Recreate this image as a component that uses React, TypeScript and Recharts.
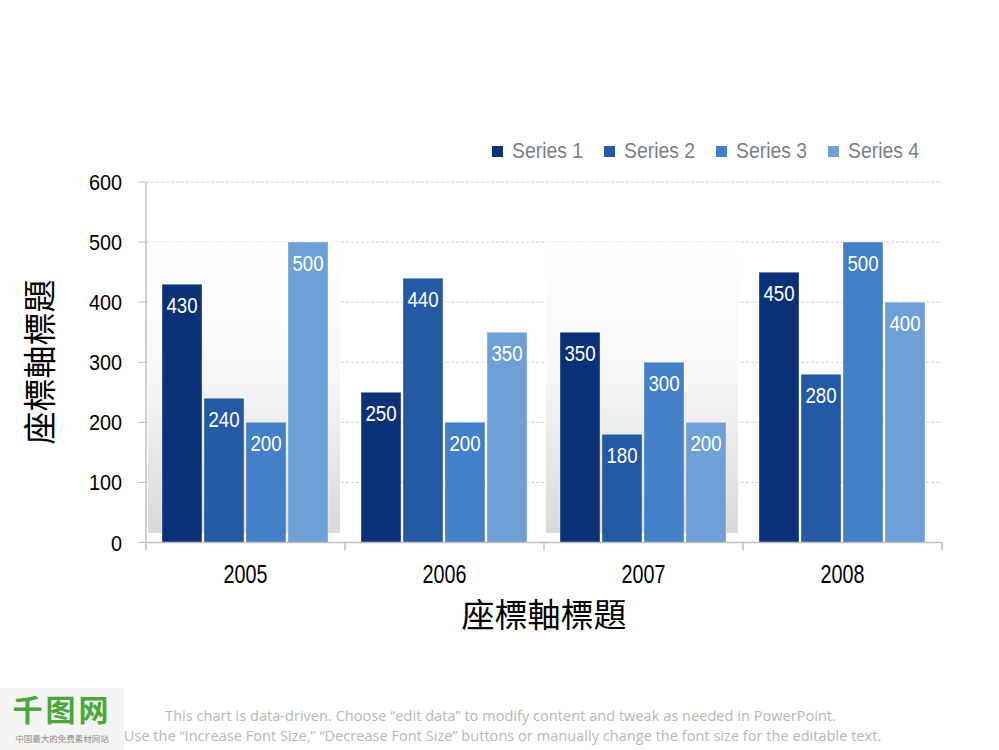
import React from "react";
import {
  BarChart,
  Bar,
  XAxis,
  YAxis,
  CartesianGrid,
  LabelList,
  ReferenceArea,
} from "recharts";

const YEARS = ["2005", "2006", "2007", "2008"];
const SERIES_NAMES = ["Series 1", "Series 2", "Series 3", "Series 4"];
const SERIES_1 = [430, 250, 350, 450];
const SERIES_2 = [240, 440, 180, 280];
const SERIES_3 = [200, 200, 300, 500];
const SERIES_4 = [500, 350, 200, 400];
const Y_TICKS = [0, 100, 200, 300, 400, 500, 600];
const SHADED_YEARS = ["2005", "2007"];
const AXIS_TITLE = "座標軸標題";

const COLORS = ["#0b3179", "#2459a5", "#4380c8", "#6f9fd7"];
const SANS = '"Liberation Sans", Arial, sans-serif';
const CJK = '"Noto Sans CJK TC", "Noto Sans CJK SC", sans-serif';
const AXIS_GRAY = "#bfbfbf";

const data = YEARS.map((year, i) => ({
  year,
  s1: SERIES_1[i],
  s2: SERIES_2[i],
  s3: SERIES_3[i],
  s4: SERIES_4[i],
}));
const KEYS = ["s1", "s2", "s3", "s4"];

// condensed look: no narrow font installed, so squeeze horizontally
const XTick = (props: any) => {
  const { x, y, payload, index } = props;
  const half = payload.offset ?? 99.5;
  const axisY = y;
  return (
    <g>
      <line
        x1={x - half}
        x2={x - half}
        y1={axisY}
        y2={axisY + 8}
        stroke={AXIS_GRAY}
        strokeWidth={1.5}
      />
      {index === YEARS.length - 1 && (
        <line
          x1={x + half}
          x2={x + half}
          y1={axisY}
          y2={axisY + 8}
          stroke={AXIS_GRAY}
          strokeWidth={1.5}
        />
      )}
      <text
        transform={`translate(${x},${axisY + 40}) scale(0.76,1)`}
        textAnchor="middle"
        fontFamily={SANS}
        fontSize={26}
        fill="#000"
      >
        {payload.value}
      </text>
    </g>
  );
};

const YTick = (props: any) => {
  const { x, y, payload } = props;
  return (
    <text
      transform={`translate(${x},${y + 8}) scale(0.88,1)`}
      textAnchor="end"
      fontFamily={SANS}
      fontSize={22.5}
      fill="#000"
    >
      {payload.value}
    </text>
  );
};

const BarLabel = (props: any) => {
  const { x, y, width, value } = props;
  return (
    <text
      transform={`translate(${x + width / 2},${y + 29}) scale(0.85,1)`}
      textAnchor="middle"
      fontFamily={SANS}
      fontSize={22}
      fill="#fff"
    >
      {value}
    </text>
  );
};

const Panel = (props: any) => {
  const { x, y, width, height } = props;
  return (
    <rect
      x={x + 2}
      y={y}
      width={width - 7}
      height={height}
      fill="url(#panelFill)"
    />
  );
};

export default function App() {
  return (
    <div
      style={{
        position: "absolute",
        left: 0,
        top: 0,
        width: 999,
        height: 750,
        background: "#fff",
        overflow: "hidden",
      }}
    >
      <BarChart
        width={999}
        height={750}
        data={data}
        margin={{ top: 182, right: 57, bottom: 147.5, left: 86 }}
        barCategoryGap={16}
        barGap={2}
      >
        <defs>
          <linearGradient id="panelFill" x1="0" y1="0" x2="0" y2="1">
            <stop offset="0%" stopColor="#ffffff" />
            <stop offset="45%" stopColor="#f7f7f7" />
            <stop offset="100%" stopColor="#d9d9d9" />
          </linearGradient>
        </defs>
        {SHADED_YEARS.map((yr) => (
          <ReferenceArea
            key={yr}
            x1={yr}
            x2={yr}
            y1={16}
            y2={500}
            shape={Panel}
            ifOverflow="visible"
          />
        ))}
        <CartesianGrid
          vertical={false}
          stroke="#d0d0d0"
          strokeDasharray="3 2"
        />
        <XAxis
          dataKey="year"
          height={60}
          tickLine={false}
          tickSize={0}
          tickMargin={0}
          axisLine={{ stroke: AXIS_GRAY, strokeWidth: 1.5 }}
          tick={<XTick />}
          interval={0}
        />
        <YAxis
          width={60}
          domain={[0, 600]}
          ticks={Y_TICKS}
          interval={0}
          tickSize={8}
          tickMargin={16}
          axisLine={{ stroke: AXIS_GRAY, strokeWidth: 1.5 }}
          tickLine={{ stroke: AXIS_GRAY }}
          tick={<YTick />}
        />
        {KEYS.map((k, i) => (
          <Bar
            key={k}
            dataKey={k}
            name={SERIES_NAMES[i]}
            fill={COLORS[i]}
            stroke="rgba(255,255,255,0.35)"
            strokeWidth={1}
            isAnimationActive={false}
          >
            <LabelList dataKey={k} content={<BarLabel />} />
          </Bar>
        ))}
      </BarChart>

      {/* legend */}
      <div
        style={{
          position: "absolute",
          left: 492,
          top: 137,
          display: "flex",
          fontFamily: SANS,
          fontSize: 22,
          color: "#7f7f7f",
          lineHeight: "28px",
        }}
      >
        {SERIES_NAMES.map((n, i) => (
          <div
            key={n}
            style={{ width: 112, display: "flex", alignItems: "center" }}
          >
            <span
              style={{
                display: "inline-block",
                width: 11,
                height: 11,
                background: COLORS[i],
                marginRight: 9,
              }}
            />
            <span
              style={{
                display: "inline-block",
                transform: "scaleX(0.88)",
                transformOrigin: "left center",
                whiteSpace: "nowrap",
              }}
            >
              {n}
            </span>
          </div>
        ))}
      </div>

      {/* axis titles */}
      <div
        style={{
          position: "absolute",
          left: 38,
          top: 362,
          transform: "translate(-50%, -50%) rotate(-90deg)",
          fontFamily: CJK,
          fontSize: 33,
          whiteSpace: "nowrap",
          color: "#000",
        }}
      >
        {AXIS_TITLE}
      </div>
      <div
        style={{
          position: "absolute",
          left: 544,
          top: 613,
          transform: "translate(-50%, -50%)",
          fontFamily: CJK,
          fontSize: 33,
          whiteSpace: "nowrap",
          color: "#000",
        }}
      >
        {AXIS_TITLE}
      </div>

      {/* footer */}
      <div
        style={{
          position: "absolute",
          left: 0,
          width: 999,
          top: 705,
          textAlign: "center",
          fontFamily: '"Open Sans", sans-serif',
          fontSize: 14.6,
          lineHeight: "20px",
          color: "#b8b8b8",
          whiteSpace: "nowrap",
        }}
      >
        <div style={{ marginLeft: 2 }}>
          This chart is data-driven. Choose “edit data” to modify content and
          tweak as needed in PowerPoint.
        </div>
        <div style={{ marginLeft: 6 }}>
          Use the “Increase Font Size,” “Decrease Font Size” buttons or manually
          change the font size for the editable text.
        </div>
      </div>

      {/* watermark */}
      <div
        style={{
          position: "absolute",
          left: 0,
          top: 688,
          width: 124,
          height: 62,
          background: "#f4f4f4",
        }}
      >
        <div
          style={{
            position: "absolute",
            left: 0,
            width: 124,
            top: -2,
            textAlign: "center",
            fontFamily: '"Noto Sans CJK SC", sans-serif',
            fontWeight: 700,
            fontSize: 30,
            color: "#4aa836",
            letterSpacing: 3,
          }}
        >
          千图网
        </div>
        <div
          style={{
            position: "absolute",
            left: 0,
            width: 124,
            top: 44,
            textAlign: "center",
            fontFamily: '"Noto Sans CJK SC", sans-serif',
            fontSize: 8.5,
            color: "#8a8a8a",
            whiteSpace: "nowrap",
          }}
        >
          中国最大的免费素材网站
        </div>
      </div>
    </div>
  );
}
